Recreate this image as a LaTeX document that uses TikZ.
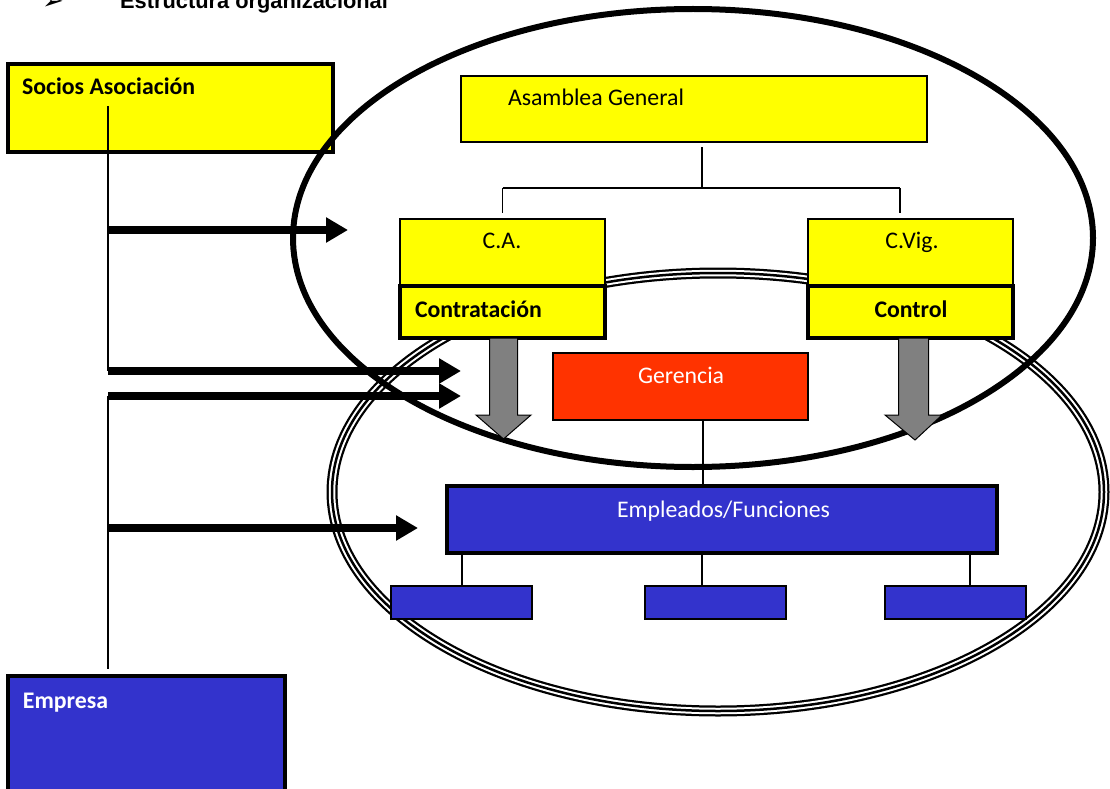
\documentclass[tikz,border=0pt]{standalone}
\usepackage{fontspec}
\setmainfont{Carlito}
\newfontfamily\titlefont{Liberation Sans}
\newfontfamily\symfont{DejaVu Sans}
\usetikzlibrary{arrows.meta}
\definecolor{cyell}{HTML}{FFFF00}
\definecolor{cred}{HTML}{FF3300}
\definecolor{cblue}{HTML}{3333CC}
\definecolor{cgray}{HTML}{808080}
\tikzset{
  box/.style={draw=black, rectangle, inner sep=0pt, outer sep=0pt, anchor=north west},
  thinbox/.style={box, line width=1.5pt},
  thickbox/.style={box, line width=3.5pt},
  lbl/.style={inner sep=0pt, outer sep=0pt, anchor=base west, font=\fontsize{23.8}{28}\selectfont},
  blbl/.style={lbl, font=\fontsize{23.8}{28}\selectfont\bfseries},
  conn/.style={draw=black, line width=1.5pt},
  bigarrow/.style={draw=black, line width=8pt, -{Triangle[length=22pt,width=24pt]}},
  blockarrow/.style={draw=black, line width=1pt, fill=cgray},
}
\begin{document}
\begin{tikzpicture}[x=1pt,y=-1pt]
\useasboundingbox (0,0) rectangle (1110,789);
% triple ellipse
\draw[line width=11pt, black] (718,492) ellipse [x radius=386, y radius=219];
\draw[line width=6.5pt, white] (718,492) ellipse [x radius=386, y radius=219];
\draw[line width=2.5pt, black] (718,492) ellipse [x radius=386, y radius=219];
% boxes
\node[thickbox, fill=cyell, minimum width=325pt, minimum height=88pt] (socios) at (8,64) {};
\node[thinbox, fill=cyell, minimum width=466pt, minimum height=66pt] (asam) at (461,76) {};
\node[thinbox, fill=cyell, minimum width=205pt, minimum height=67pt] (ca) at (400,219) {};
\node[thickbox, fill=cyell, minimum width=205pt, minimum height=52pt] (contr) at (400,286) {};
\node[thinbox, fill=cyell, minimum width=205pt, minimum height=67pt] (cvig) at (808,219) {};
\node[thickbox, fill=cyell, minimum width=205pt, minimum height=52pt] (control) at (808,286) {};
\node[thinbox, fill=cred, minimum width=255pt, minimum height=67pt] (ger) at (553,353) {};
\node[box, line width=4pt, fill=cblue, minimum width=550pt, minimum height=67pt] (emp) at (447,486) {};
\node[thinbox, fill=cblue, minimum width=141pt, minimum height=33pt] (s1) at (391,586) {};
\node[thinbox, fill=cblue, minimum width=141pt, minimum height=33pt] (s2) at (645,586) {};
\node[thinbox, fill=cblue, minimum width=141pt, minimum height=33pt] (s3) at (885,586) {};
\node[box, line width=4pt, fill=cblue, minimum width=277pt, minimum height=124pt] (empresa) at (8,676) {};
% big thick ellipse
\draw[line width=6pt, black] (693,238) ellipse [x radius=400, y radius=229];
% org chart connectors
\coordinate (bar) at (702,188);
\coordinate (astop) at (702,142);
\coordinate (cvtop) at (900,219);
\draw[conn, shorten <=5pt] (astop) -- (bar);
\draw[conn] (ca.north |- bar) -- (cvtop |- bar);
\draw[conn, shorten >=6pt] (ca.north |- bar) -- (ca.north);
\draw[conn, shorten >=6pt] (cvtop |- bar) -- (cvtop);
\coordinate (gline) at (703,420);
\draw[conn] (gline) -- (gline |- emp.north);
\coordinate (e1) at (462,554);
\coordinate (e2) at (702,554);
\coordinate (e3) at (970,554);
\draw[conn] (e1) -- (e1 |- s1.north);
\draw[conn] (e2) -- (e2 |- s2.north);
\draw[conn] (e3) -- (e3 |- s3.north);
% gray block arrows
\begin{scope}[shift={(503.5,338)}]
\draw[blockarrow] (-14,0) -- (-14,77) -- (-27.5,77) -- (0,101) -- (27.5,77) -- (14,77) -- (14,0) -- cycle;
\end{scope}
\begin{scope}[shift={(913.5,338)}]
\draw[blockarrow] (-15,0) -- (-15,77) -- (-28.5,77) -- (1.5,102) -- (28.5,77) -- (15,77) -- (15,0) -- cycle;
\end{scope}
% left lines and arrows
\coordinate (vtop) at (108,106);
\coordinate (a1s) at (108,230);
\coordinate (a2s) at (108,371);
\coordinate (a3s) at (108,396);
\coordinate (a4s) at (108,528);
\coordinate (vbot) at (108,669);
\coordinate (a1e) at (348,230);
\coordinate (a2e) at (461,371);
\coordinate (a3e) at (461,396);
\coordinate (a4e) at (418,528);
\draw[conn] (vtop) -- (a2s);
\draw[conn] (a3s) -- (vbot);
\draw[bigarrow] (a1s) -- (a1e);
\draw[bigarrow] (a2s) -- (a2e);
\draw[bigarrow] (a3s) -- (a3e);
\draw[bigarrow] (a4s) -- (a4e);
% texts
\node[inner sep=0pt, anchor=base west, font=\symfont\fontsize{26}{30}\selectfont] (bullet) at (42,10) {➢};
\node[inner sep=0pt, anchor=base west, font=\titlefont\bfseries\fontsize{21.8}{26}\selectfont] (title) at (120,9) {Estructura organizacional};
\node[blbl] (tsocios) at (22,95) {Socios Asociación};
\node[lbl] (tasam) at (508,106) {Asamblea General};
\node[lbl, anchor=base] (tca) at (502,248) {C.A.};
\node[lbl, anchor=base] (tcvig) at (912,248) {C.Vig.};
\node[blbl] (tcontr) at (415,317) {Contratación};
\node[blbl, anchor=base] (tcontrol) at (911,317) {Control};
\node[lbl, text=white] (tger) at (638,383) {Gerencia};
\node[lbl, text=white] (temp) at (617,517) {Empleados/Funciones};
\node[blbl, text=white] (tempresa) at (23,708) {Empresa};
\end{tikzpicture}
\end{document}
